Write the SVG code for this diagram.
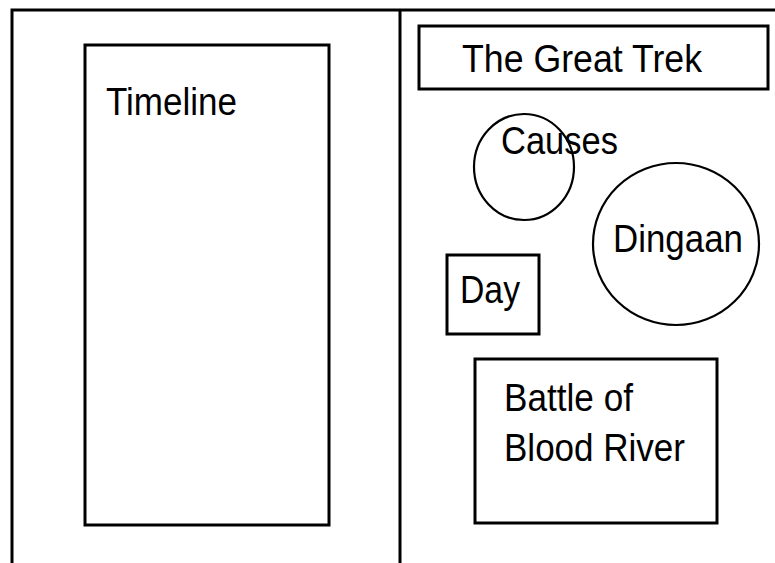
<svg xmlns="http://www.w3.org/2000/svg" width="775" height="563" viewBox="0 0 775 563">
<style>
.f{fill:none;stroke:#000;stroke-width:3}
.c{fill:none;stroke:#000;stroke-width:2.2}
.t{font-family:"Liberation Sans",Arial,sans-serif;font-size:38px;fill:#000}
</style>
<rect width="775" height="563" fill="#fff"/>
<g id="frame">
<path class="f" d="M12,563 V10 H775"/>
<path class="f" d="M400,10 V563"/>
</g>
<g id="timeline">
<rect class="f" x="85" y="45" width="244" height="480"/>
<text class="t" x="106" y="115" textLength="131" lengthAdjust="spacingAndGlyphs">Timeline</text>
</g>
<g id="great-trek">
<rect class="f" x="419" y="26" width="349" height="63"/>
<text class="t" x="462" y="72" textLength="240" lengthAdjust="spacingAndGlyphs">The Great Trek</text>
</g>
<g id="causes">
<ellipse class="c" cx="524" cy="167" rx="50" ry="53"/>
<text class="t" x="501" y="154" textLength="117" lengthAdjust="spacingAndGlyphs">Causes</text>
</g>
<g id="dingaan">
<ellipse class="c" cx="676" cy="244" rx="83" ry="81"/>
<text class="t" x="613" y="252" textLength="130" lengthAdjust="spacingAndGlyphs">Dingaan</text>
</g>
<g id="day">
<rect class="f" x="447" y="255" width="92" height="79"/>
<text class="t" x="460" y="303" textLength="60" lengthAdjust="spacingAndGlyphs">Day</text>
</g>
<g id="battle">
<rect class="f" x="475" y="359" width="242" height="164"/>
<text class="t" x="504" y="411" textLength="129" lengthAdjust="spacingAndGlyphs">Battle of</text>
<text class="t" x="504" y="461" textLength="181" lengthAdjust="spacingAndGlyphs">Blood River</text>
</g>
<g id="connectors"></g>
</svg>
